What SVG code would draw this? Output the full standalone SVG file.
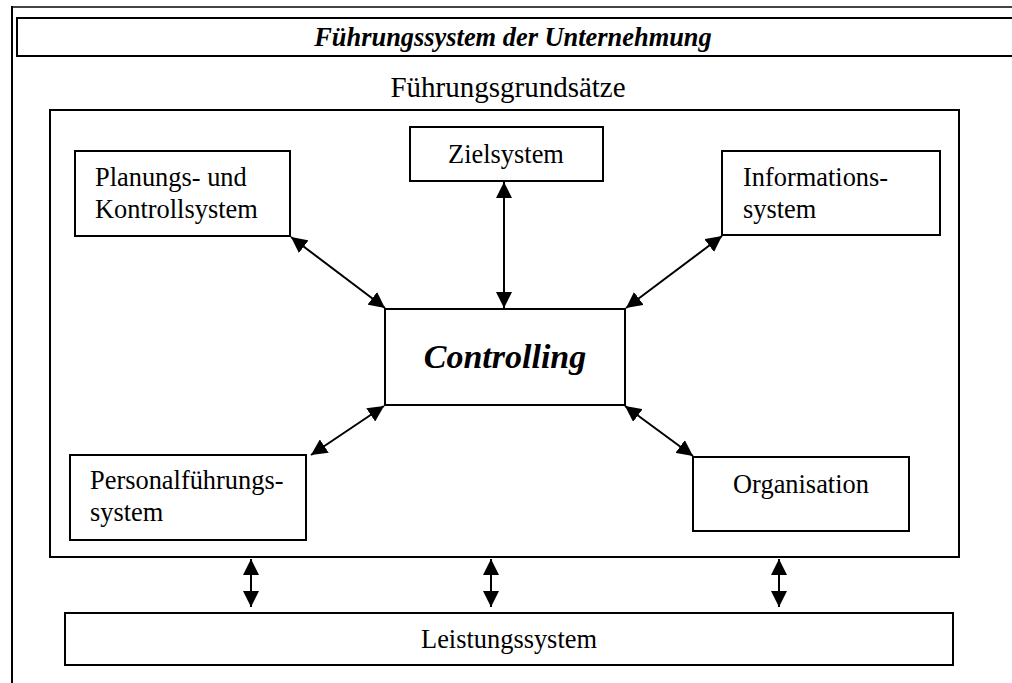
<svg xmlns="http://www.w3.org/2000/svg" width="1012" height="683" viewBox="0 0 1012 683">
<style>
.box{fill:#fff;stroke:#000;stroke-width:2}
.t{font-family:"Liberation Serif","Times New Roman",serif;font-size:26.4px;fill:#000}
.bi{font-weight:bold;font-style:italic}
.c{text-anchor:middle}
.con{stroke:#000;stroke-width:2;fill:none;marker-start:url(#ah);marker-end:url(#ah)}
</style>
<defs>
<marker id="ah" markerUnits="userSpaceOnUse" viewBox="0 0 16 16" markerWidth="16" markerHeight="16" refX="16" refY="8" orient="auto-start-reverse">
<path d="M0,0 L16,8 L0,16 z" fill="#000"/>
</marker>
</defs>
<rect width="1012" height="683" fill="#fff"/>
<g id="frame">
<line x1="11" y1="7" x2="1012" y2="7" stroke="#444" stroke-width="2"/>
<line x1="12" y1="6" x2="12" y2="683" stroke="#000" stroke-width="2"/>
</g>
<g id="title">
<rect class="box" x="17" y="18" width="1010" height="38"/>
<text class="t bi c" x="513" y="46">Führungssystem der Unternehmung</text>
</g>
<g id="fuehrungsgrundsaetze">
<text class="t c" x="508" y="97" style="font-size:29px">Führungsgrundsätze</text>
<rect class="box" x="50" y="110" width="909" height="447"/>
</g>
<g id="zielsystem">
<rect class="box" x="410" y="127" width="193" height="54"/>
<text class="t c" x="506" y="163">Zielsystem</text>
</g>
<g id="planung">
<rect class="box" x="75" y="151" width="215" height="85"/>
<text class="t" x="95" y="186">Planungs- und</text>
<text class="t" x="95" y="218">Kontrollsystem</text>
</g>
<g id="information">
<rect class="box" x="722" y="151" width="218" height="84"/>
<text class="t" x="743" y="186">Informations-</text>
<text class="t" x="743" y="218">system</text>
</g>
<g id="controlling">
<rect class="box" x="385" y="309" width="240" height="96"/>
<text class="t bi c" x="505" y="368" style="font-size:34px">Controlling</text>
</g>
<g id="personal">
<rect class="box" x="70" y="455" width="236" height="85"/>
<text class="t" x="90" y="489">Personalführungs-</text>
<text class="t" x="90" y="521">system</text>
</g>
<g id="organisation">
<rect class="box" x="693" y="457" width="216" height="74"/>
<text class="t c" x="801" y="493">Organisation</text>
</g>
<g id="leistung">
<rect class="box" x="65" y="613" width="888" height="52"/>
<text class="t c" x="509" y="648">Leistungssystem</text>
</g>
<g id="connectors">
<line class="con" x1="291" y1="237" x2="385" y2="308"/>
<line class="con" x1="504" y1="182" x2="504" y2="308"/>
<line class="con" x1="722" y1="236" x2="626" y2="308"/>
<line class="con" x1="384" y1="406" x2="311" y2="455"/>
<line class="con" x1="625" y1="406" x2="693" y2="456"/>
<line class="con" x1="251" y1="559" x2="251" y2="607"/>
<line class="con" x1="491" y1="559" x2="491" y2="607"/>
<line class="con" x1="779" y1="559" x2="779" y2="607"/>
</g>
</svg>
